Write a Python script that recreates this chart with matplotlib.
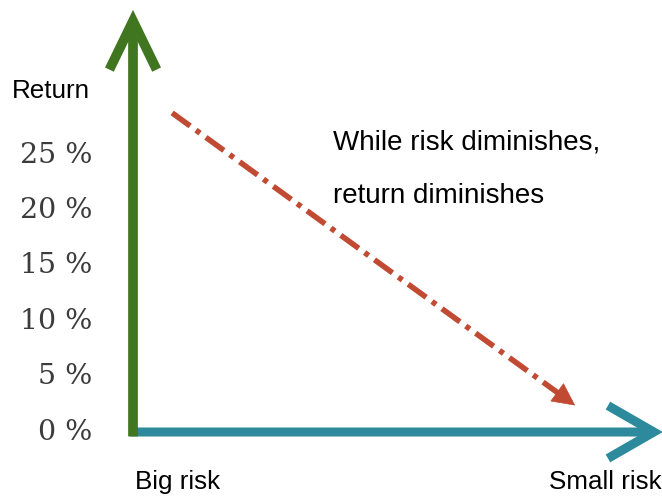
import numpy as np
import matplotlib.pyplot as plt
from matplotlib.patches import FancyArrowPatch

# return levels marked on the vertical axis (%)
return_levels = [0, 5, 10, 15, 20, 25]
return_labels = ["0 %", "5 %", "10 %", "15 %", "20 %", "25 %"]

# trend: high return at big risk falling to low return at small risk
trend_risk = [0.75, 8.47]
trend_return = [28.8, 2.4]

# axis extents (risk units, return %)
risk_axis_end = 10.15
return_axis_end = 38.1

green = "#40761f"
teal = "#2d8a9c"
red = "#c14a33"

fig = plt.figure(figsize=(6.62, 4.97), dpi=100)
ax = fig.add_axes([0, 0, 1, 1])
ax.set_xlim(-2.548, 10.134)
ax.set_ylim(-5.866, 38.99)
ax.axis("off")

# vertical (return) axis
ax.add_patch(FancyArrowPatch((0, -0.4), (0, return_axis_end),
                             arrowstyle="->, head_length=35, head_width=17",
                             mutation_scale=1, lw=7, color=green,
                             shrinkA=0, shrinkB=0, joinstyle="miter",
                             capstyle="butt", zorder=3))
# horizontal (risk) axis
ax.add_patch(FancyArrowPatch((-0.06, 0), (risk_axis_end, 0),
                             arrowstyle="->, head_length=33, head_width=19",
                             mutation_scale=1, lw=6.5, color=teal,
                             shrinkA=0, shrinkB=0, joinstyle="miter",
                             capstyle="butt", zorder=2))

# dash-dot trend line with a filled head
ax.plot(trend_risk, trend_return, color=red, lw=4,
        linestyle=(0, (4, 1.3, 0.9, 1.3)), dash_capstyle="butt")
dx = trend_risk[1] - trend_risk[0]
dy = trend_return[1] - trend_return[0]
ax.annotate("", xy=(trend_risk[1], trend_return[1]),
            xytext=(trend_risk[1] - 0.02 * dx, trend_return[1] - 0.02 * dy),
            arrowprops=dict(arrowstyle="-|>, head_length=1.1, head_width=0.55",
                            color=red, lw=0.5, mutation_scale=14,
                            shrinkA=0, shrinkB=0))

# return tick labels
for v, lab in zip(return_levels, return_labels):
    ax.text(-0.77, v, lab, ha="right", va="center", fontsize=20.5,
            family="DejaVu Serif", color="#3c3c3c")

sans = "Liberation Sans"
ax.text(-2.32, 30.8, "Return", ha="left", va="center", fontsize=18.7, family=sans)
ax.text(0.04, -4.5, "Big risk", ha="left", va="center", fontsize=18.7, family=sans)
ax.text(7.97, -4.5, "Small risk", ha="left", va="center", fontsize=18.7, family=sans)
ax.text(3.83, 26.1, "While risk diminishes,", ha="left", va="center",
        fontsize=20, family=sans)
ax.text(3.83, 21.3, "return diminishes", ha="left", va="center",
        fontsize=20, family=sans)

fig.savefig("out.png", dpi=100, facecolor="white")
